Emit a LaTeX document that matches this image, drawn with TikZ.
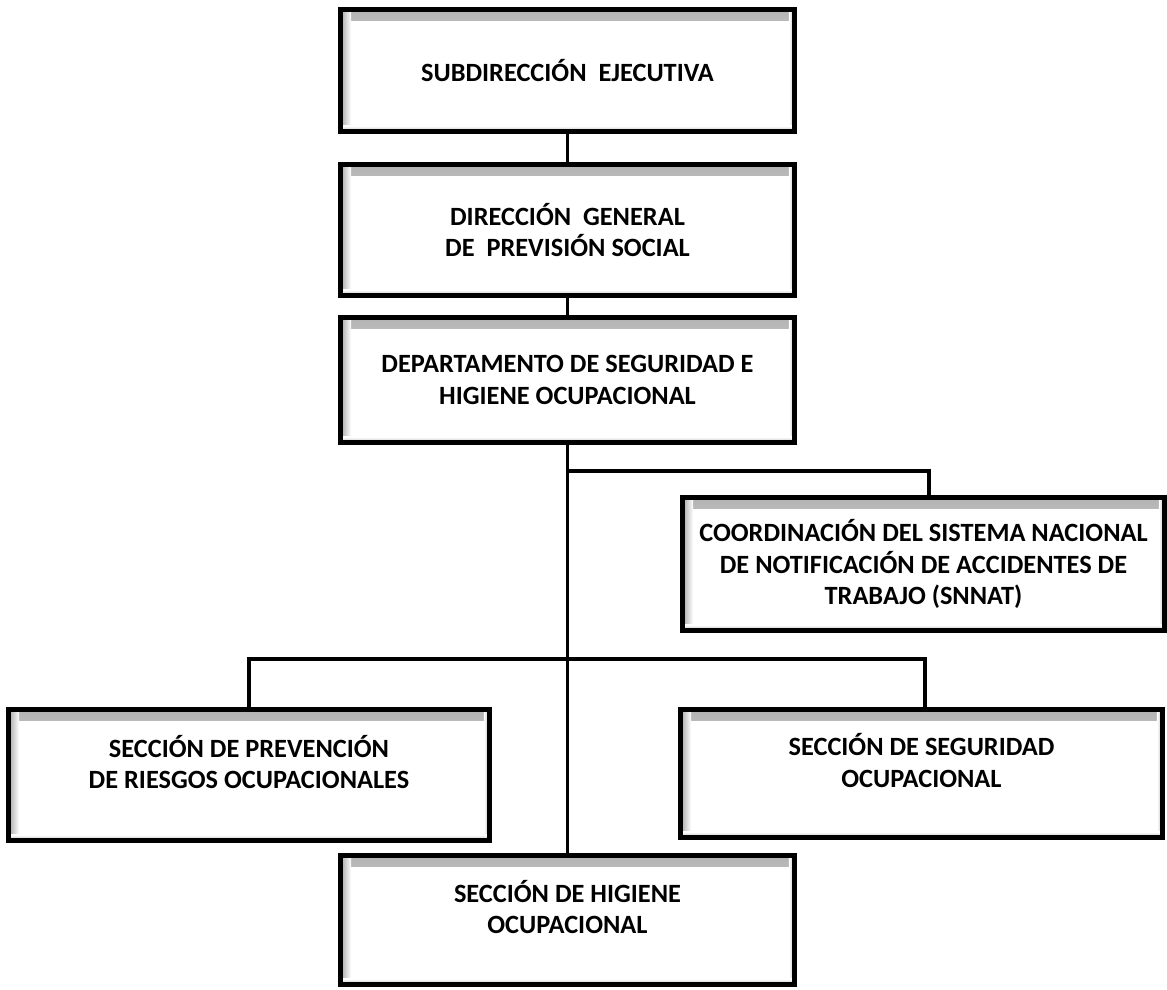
\documentclass[tikz,border=0pt]{standalone}
\usepackage{fontspec}
\setmainfont{Carlito}
\usetikzlibrary{positioning, calc}

\tikzset{
    orgbox/.style={draw=black, line width=0.1cm, fill=white, align=center,
        font=\bfseries\fontsize{15}{18}\selectfont, inner sep=0pt,
        path picture={
            % bevel inside the black border
            \shade[top color=gray!60, bottom color=white]
                ([shift={(0.04cm,-0.04cm)}]path picture bounding box.north west)
                rectangle ([shift={(-0.04cm,-0.22cm)}]path picture bounding box.north east);
            \shade[left color=gray!60, right color=white]
                ([shift={(0.04cm,-0.04cm)}]path picture bounding box.north west)
                rectangle ([shift={(0.22cm,0.04cm)}]path picture bounding box.south west);
            \shade[left color=white, right color=gray!40]
                ([shift={(-0.12cm,-0.04cm)}]path picture bounding box.north east)
                rectangle ([shift={(-0.04cm,0.04cm)}]path picture bounding box.south east);
            \shade[top color=white, bottom color=gray!40]
                ([shift={(0.04cm,0.12cm)}]path picture bounding box.south west)
                rectangle ([shift={(-0.04cm,0.04cm)}]path picture bounding box.south east);
        }},
    boxtext/.style={align=center, font=\bfseries\fontsize{15}{18}\selectfont},
    link/.style={line width=0.075cm}
}

\begin{document}
\begin{tikzpicture}[x=0.02cm, y=-0.02cm]
    \useasboundingbox (0,0) rectangle (1167,990);

    % Top levels
    \node[orgbox, minimum width=9.1cm, minimum height=2.46cm] (subdir) at (567.5,70.5)
        {SUBDIRECCIÓN\ \ EJECUTIVA};
    \node[orgbox, minimum width=9.1cm, minimum height=2.64cm] (dirgen) at (567.5,230)
        {DIRECCIÓN\ \ GENERAL\\DE\ \ PREVISIÓN SOCIAL};
    \node[orgbox, minimum width=9.1cm, minimum height=2.52cm] (depto) at (567.5,380)
        {DEPARTAMENTO DE SEGURIDAD E\\HIGIENE OCUPACIONAL};

    % Coordination
    \node[orgbox, minimum width=9.66cm, minimum height=2.68cm] (snnat) at (923.5,564)
        {COORDINACIÓN DEL SISTEMA NACIONAL\\DE NOTIFICACIÓN DE ACCIDENTES DE\\TRABAJO (SNNAT)};

    % Sections
    \node[orgbox, minimum width=9.64cm, minimum height=2.64cm] (prev) at (249,775) {};
    \node[boxtext] (prevtext) at ([yshift=0.26cm]prev.center)
        {SECCIÓN DE PREVENCIÓN\\DE RIESGOS OCUPACIONALES};
    \node[orgbox, minimum width=9.66cm, minimum height=2.58cm] (seg) at (921.5,773.5) {};
    \node[boxtext] (segtext) at ([yshift=0.26cm]seg.center)
        {SECCIÓN DE SEGURIDAD\\OCUPACIONAL};

    % Connectors
    \coordinate (split1) at (567.5,471);
    \coordinate (split2) at (567.5,659);
    \draw[link] (subdir) -- (dirgen);
    \draw[link] (dirgen) -- (depto);
    \draw[link] (depto.south) -- (567.5,855);
    \draw[link] (split1) -| ([xshift=0.11cm]snnat.north);
    \draw[link] (prev.north) |- (split2) -| ([xshift=0.07cm]seg.north);

    \node[orgbox, minimum width=9.1cm, minimum height=2.6cm] (hig) at (567.5,920) {};
    \node[boxtext] (higtext) at ([yshift=0.26cm]hig.center)
        {SECCIÓN DE HIGIENE\\OCUPACIONAL};
\end{tikzpicture}
\end{document}
